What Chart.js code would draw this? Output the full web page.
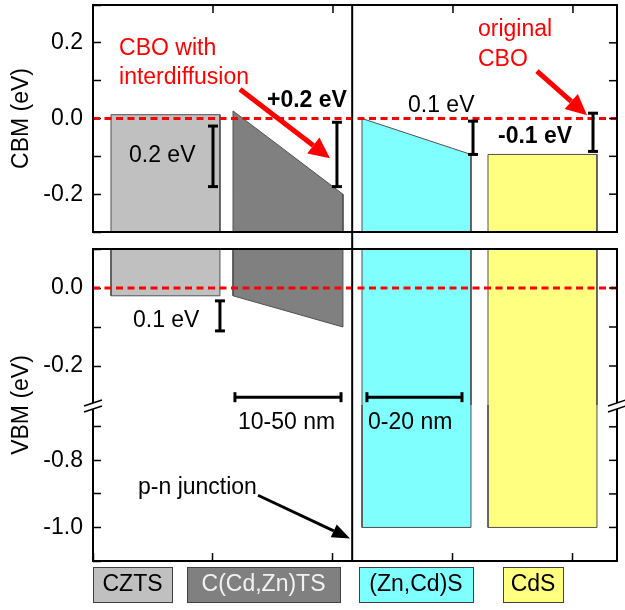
<!DOCTYPE html>
<html>
<head>
<meta charset="utf-8">
<title>CBM / VBM alignment</title>
<script src="https://cdn.jsdelivr.net/npm/chart.js"></script>
<style>
  body { margin: 0; background: #fff; }
  canvas { display: block; }
</style>
</head>
<body>
<canvas id="canvas" width="625" height="610"></canvas>
<script>
// layers from left to right, x in position units (1 unit ~ 12 px)
const layers = ['CZTS', 'C(Cd,Zn)TS', '(Zn,Cd)S', 'CdS'];
const layerStart = [1.5, 11.67, 22.42, 32.92];
const layerEnd = [10.58, 20.83, 31.5, 42.0];
// band edges in eV at the left / right side of each layer
const cbmStart = [0.01, 0.02, 0.0, -0.095];
const cbmEnd = [0.01, -0.2, -0.095, -0.095];
const vbmStart = [-0.02, -0.02, -1.0, -1.0];
const vbmEnd = [-0.02, -0.10, -1.0, -1.0];
const layerColors = ['#c0c0c0', '#808080', '#80ffff', '#ffff80'];
const junctionX = 21.6;

// offset markers (eV)
const cbmMarkX = [10.0, 20.33, 31.67, 41.67];
const cbmMarkHi = [-0.02, -0.01, -0.007, 0.014];
const cbmMarkLo = [-0.18, -0.18, -0.095, -0.087];
const cbmMarkText = ['0.2 eV', '+0.2 eV', '0.1 eV', '-0.1 eV'];
const vbmMarkX = [10.58];
const vbmMarkHi = [-0.033];
const vbmMarkLo = [-0.11];
const vbmMarkText = ['0.1 eV'];

// thickness bars
const barStart = [11.83, 22.83];
const barEnd = [20.67, 30.75];
const barLevel = [-0.28, -0.28];
const barText = ['10-50 nm', '0-20 nm'];

// axis ranges
const xRange = [0, 43.67];
const cbmRange = [-0.3, 0.3];
const vbmUpper = [-0.3, 0.1];
const vbmLower = [-1.1, -0.635];

const FONT = '"Liberation Sans", Arial, Helvetica, sans-serif';
const SIZE = 23;

// every 0.1 gets a tick, every 0.2 a label
function tickLabel(v) {
  const k = Math.round(v * 10);
  if (Math.abs(v * 10 - k) > 1e-6) return null;
  return k % 2 === 0 ? (k / 10).toFixed(1) : '';
}

const datasets = [];
// dashed reference level in both panels
['yC', 'yV1'].forEach(id => {
  datasets.push({
    yAxisID: id,
    data: [{x: xRange[0], y: 0}, {x: xRange[1], y: 0}],
    borderColor: '#ff0000', borderWidth: 3, borderDash: [7, 4.5], fill: false
  });
});
layers.forEach((name, i) => {
  const a = layerStart[i], b = layerEnd[i];
  datasets.push({
    label: name + ' CBM', yAxisID: 'yC',
    data: [{x: a, y: cbmRange[0]}, {x: a, y: cbmStart[i]}, {x: b, y: cbmEnd[i]}, {x: b, y: cbmRange[0]}],
    backgroundColor: layerColors[i], borderColor: '#505050', borderWidth: 1, fill: 'start'
  });
  if (vbmStart[i] >= vbmUpper[0]) {
    datasets.push({
      label: name + ' VBM', yAxisID: 'yV1',
      data: [{x: a, y: vbmUpper[1]}, {x: a, y: vbmStart[i]}, {x: b, y: vbmEnd[i]}, {x: b, y: vbmUpper[1]}],
      backgroundColor: layerColors[i], borderColor: '#505050', borderWidth: 1, fill: 'end'
    });
  } else {
    // band runs through the axis break
    datasets.push({
      label: name + ' VBM', yAxisID: 'yV1',
      data: [{x: a, y: vbmUpper[0]}, {x: a, y: vbmUpper[1]}, {x: b, y: vbmUpper[1]}, {x: b, y: vbmUpper[0]}],
      backgroundColor: layerColors[i], borderColor: '#505050', borderWidth: 1, fill: 'start'
    });
    datasets.push({
      label: name + ' VBM low', yAxisID: 'yV2',
      data: [{x: a, y: vbmLower[1]}, {x: a, y: vbmStart[i]}, {x: b, y: vbmEnd[i]}, {x: b, y: vbmLower[1]}],
      backgroundColor: layerColors[i], borderColor: '#505050', borderWidth: 1, fill: 'end'
    });
  }
});

function yAxis(range, weight, order, title) {
  return {
    type: 'linear', position: 'left', stack: 'bands', stackWeight: weight, weight: order,
    min: range[0], max: range[1],
    ticks: { stepSize: 0.1, includeBounds: false, autoSkip: false, callback: tickLabel, color: '#000',
             padding: 18, font: { family: FONT, size: SIZE } },
    grid: { drawOnChartArea: false, tickLength: -8, tickColor: '#000', tickWidth: 1.5 },
    border: { display: false },
    title: { display: !!title, text: title || '', color: '#000', font: { family: FONT, size: SIZE },
             padding: { top: 8, bottom: 0 } },
    afterFit: s => { s.width = 93; s.paddingTop = 0; s.paddingBottom = 0; }
  };
}

const decorations = {
  id: 'decorations',
  afterDatasetsDraw(chart) {
    const { ctx, chartArea: area } = chart;
    const { x, yC, yV1, yV2 } = chart.scales;
    const X = v => x.getPixelForValue(v);
    const line = (x1, y1, x2, y2) => { ctx.beginPath(); ctx.moveTo(x1, y1); ctx.lineTo(x2, y2); ctx.stroke(); };
    const text = (str, xv, s, yv, color, bold) => {
      ctx.font = (bold ? 'bold ' : '') + SIZE + 'px ' + FONT;
      ctx.fillStyle = color;
      ctx.textAlign = 'left';
      ctx.textBaseline = 'alphabetic';
      ctx.fillText(str, X(xv), s.getPixelForValue(yv));
    };
    const arrow = (x1, y1, x2, y2, color, lw, head, half) => {
      const t = Math.atan2(y2 - y1, x2 - x1);
      const bx = x2 - head * Math.cos(t), by = y2 - head * Math.sin(t);
      ctx.strokeStyle = color; ctx.lineWidth = lw;
      line(x1, y1, bx, by);
      ctx.fillStyle = color;
      ctx.beginPath();
      ctx.moveTo(x2, y2);
      ctx.lineTo(bx + half * Math.sin(t), by - half * Math.cos(t));
      ctx.lineTo(bx - half * Math.sin(t), by + half * Math.cos(t));
      ctx.closePath(); ctx.fill();
    };
    const vmark = (xp, y1, y2) => {
      ctx.strokeStyle = '#000'; ctx.lineWidth = 3;
      line(xp, y1, xp, y2);
      line(xp - 5, y1, xp + 5, y1);
      line(xp - 5, y2, xp + 5, y2);
    };
    ctx.save();
    ctx.lineCap = 'butt';

    // p-n junction
    ctx.strokeStyle = '#000'; ctx.lineWidth = 2;
    line(X(junctionX), area.top, X(junctionX), area.bottom);

    // panel frames
    ctx.strokeRect(area.left, yC.top, area.right - area.left, yC.bottom - yC.top);
    ctx.strokeRect(area.left, yV1.top, area.right - area.left, yV2.bottom - yV1.top);

    // mirrored ticks: right side and top
    ctx.lineWidth = 1.5;
    [yC, yV1, yV2].forEach(s => {
      s.ticks.forEach(t => {
        if (t.value <= s.min || t.value >= s.max) return;
        if (tickLabel(t.value) === null) return;
        const py = s.getPixelForValue(t.value);
        line(area.right - 8, py, area.right, py);
      });
    });
    x.ticks.forEach(t => {
      if (t.value > x.min && t.value < x.max) line(X(t.value), area.top, X(t.value), area.top + 8);
    });

    // axis break marks
    const yb = yV1.bottom;
    [area.left, area.right].forEach(bx => {
      ctx.fillStyle = '#fff';
      ctx.beginPath();
      ctx.moveTo(bx - 9, yb + 1); ctx.lineTo(bx + 9, yb - 5);
      ctx.lineTo(bx + 9, yb + 1); ctx.lineTo(bx - 9, yb + 7);
      ctx.closePath(); ctx.fill();
      ctx.strokeStyle = '#000'; ctx.lineWidth = 1.5;
      line(bx - 9, yb + 1, bx + 9, yb - 5);
      line(bx - 9, yb + 7, bx + 9, yb + 1);
    });

    // VBM axis title (spans both parts of the broken axis)
    ctx.save();
    ctx.translate(21.5, (yV1.top + yV2.bottom) / 2);
    ctx.rotate(-Math.PI / 2);
    ctx.font = SIZE + 'px ' + FONT; ctx.fillStyle = '#000';
    ctx.textAlign = 'center'; ctx.textBaseline = 'middle';
    ctx.fillText('VBM (eV)', 0, 0);
    ctx.restore();

    // offset markers and labels
    cbmMarkX.forEach((mx, i) => vmark(X(mx), yC.getPixelForValue(cbmMarkHi[i]), yC.getPixelForValue(cbmMarkLo[i])));
    const cbmLabelAt = [[3.0, -0.116], [14.5, 0.030], [26.25, 0.017], [33.75, -0.065]];
    const cbmBold = [false, true, false, true];
    cbmMarkText.forEach((s, i) => text(s, cbmLabelAt[i][0], yC, cbmLabelAt[i][1], '#000', cbmBold[i]));
    vbmMarkX.forEach((mx, i) => vmark(X(mx), yV1.getPixelForValue(vbmMarkHi[i]), yV1.getPixelForValue(vbmMarkLo[i])));
    text(vbmMarkText[0], 3.33, yV1, -0.1, '#000', false);

    // thickness bars
    const barLabelAt = [12.08, 22.92];
    barText.forEach((s, i) => {
      const py = yV1.getPixelForValue(barLevel[i]);
      ctx.strokeStyle = '#000'; ctx.lineWidth = 3;
      line(X(barStart[i]), py, X(barEnd[i]), py);
      line(X(barStart[i]), py - 5, X(barStart[i]), py + 5);
      line(X(barEnd[i]), py - 5, X(barEnd[i]), py + 5);
      text(s, barLabelAt[i], yV2, -0.7075, '#000', false);
    });

    // callouts
    text('CBO with', 2.17, yC, 0.168, '#ff0000', false);
    text('interdiffusion', 2.17, yC, 0.091, '#ff0000', false);
    arrow(X(12.25), yC.getPixelForValue(0.0775), X(19.75), yC.getPixelForValue(-0.105), '#ff0000', 5, 21, 10);
    text('original', 32.08, yC, 0.219, '#ff0000', false);
    text('CBO', 32.08, yC, 0.139, '#ff0000', false);
    arrow(X(37.0), yC.getPixelForValue(0.125), X(41.17), yC.getPixelForValue(0.0085), '#ff0000', 5, 21, 10);
    text('p-n junction', 3.75, yV2, -0.9, '#000', false);
    arrow(X(13.75), yV2.getPixelForValue(-0.904), X(21.42), yV2.getPixelForValue(-1.033), '#000', 3, 18, 7);

    // layer name boxes under the plot
    const boxes = [[93, 172], [187, 340], [359, 473], [503, 563]];
    const inks = ['#000', '#f2f2f2', '#000', '#000'];
    layers.forEach((name, i) => {
      const [l, r] = boxes[i];
      ctx.fillStyle = layerColors[i];
      ctx.fillRect(l, 567, r - l, 35);
      ctx.strokeStyle = '#404040'; ctx.lineWidth = 1;
      ctx.strokeRect(l + 0.5, 567.5, r - l, 35);
      ctx.font = SIZE + 'px ' + FONT; ctx.fillStyle = inks[i];
      ctx.textAlign = 'center'; ctx.textBaseline = 'middle';
      ctx.fillText(name, (l + r) / 2, 585);
    });
    ctx.restore();
  }
};

const ctx = document.getElementById('canvas').getContext('2d');
const chart = new Chart(ctx, {
  type: 'line',
  data: { datasets: datasets },
  options: {
    responsive: false,
    animation: false,
    events: [],
    layout: { padding: { top: 5, right: 8, bottom: 49, left: 0 } },
    plugins: { legend: { display: false }, tooltip: { enabled: false } },
    elements: { point: { radius: 0 }, line: { tension: 0 } },
    scales: {
      x: {
        type: 'linear', position: 'bottom', min: xRange[0], max: xRange[1],
        ticks: { display: false, stepSize: 10, includeBounds: false },
        grid: { drawOnChartArea: false, tickLength: -8, tickColor: '#000', tickWidth: 1.5 },
        border: { display: false },
        afterFit: s => { s.height = 0; s.paddingLeft = 0; s.paddingRight = 0; }
      },
      yC: yAxis(cbmRange, 227, 4, 'CBM (eV)'),
      yGap: { type: 'linear', position: 'left', stack: 'bands', stackWeight: 17, weight: 3,
              min: 0, max: 1, display: false },
      yV1: yAxis(vbmUpper, 156, 2, ''),
      yV2: yAxis(vbmLower, 156, 1, '')
    }
  },
  plugins: [decorations]
});
</script>
</body>
</html>
